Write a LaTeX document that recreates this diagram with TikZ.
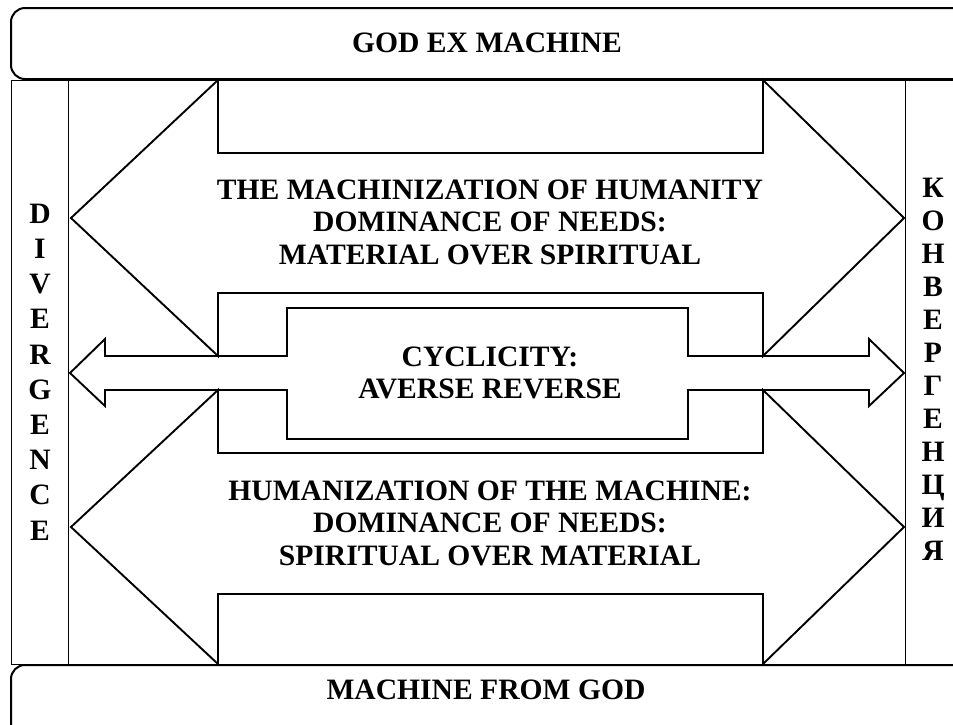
\documentclass[tikz,border=0pt]{standalone}
\usepackage{fontspec}
\setmainfont{Liberation Serif}
\usetikzlibrary{positioning}

\begin{document}
\begin{tikzpicture}[x=0.5pt,y=-0.5pt,line join=miter]
  \tikzstyle{every node}=[font=\fontsize{14.8}{16.25}\selectfont\bfseries,align=center,inner sep=0pt]
  \tikzstyle{band}=[draw,line width=1pt,rounded corners=7pt,fill=white]
  \tikzstyle{frame}=[draw,line width=0.5pt]
  \tikzstyle{arrowshape}=[draw,line width=0.95pt]
  \tikzstyle{leftcol}=[font=\fontsize{14.8}{17.6}\selectfont\bfseries]
  \tikzstyle{rightcol}=[font=\fontsize{14.8}{16.5}\selectfont\bfseries]
  \clip (0,0) rectangle (953,724);
  % frame and side columns
  \draw[frame] (11,80) rectangle (990,664);
  \draw[frame] (68,80) -- (68,664);
  \draw[frame] (905,80) -- (905,664);
  % bands
  \draw[band] (11,8) rectangle (990,79);
  \draw[band] (11,665) rectangle (990,770);
  % big arrows
  \draw[arrowshape] (71,218) -- (218,80) -- (218,153) -- (763,153) -- (763,80)
    -- (904,218) -- (763,356) -- (763,293) -- (218,293) -- (218,356) -- cycle;
  \draw[arrowshape] (71,527) -- (218,390) -- (218,453) -- (763,453) -- (763,390)
    -- (904,527) -- (763,664) -- (763,594) -- (218,594) -- (218,664) -- cycle;
  % middle arrow
  \draw[arrowshape] (70,373) -- (105,339) -- (105,356) -- (287,356) -- (287,308)
    -- (688,308) -- (688,356) -- (869,356) -- (869,339) -- (904,373) -- (869,406)
    -- (869,390) -- (688,390) -- (688,439) -- (287,439) -- (287,390) -- (105,390)
    -- (105,406) -- cycle;
  % texts
  \node (top) at (487,43) {GOD EX MACHINE};
  \node (bottom) at (486,690) {MACHINE FROM GOD};
  \node (upper) at (490,222) {THE MACHINIZATION OF HUMANITY\\DOMINANCE OF NEEDS:\\MATERIAL OVER SPIRITUAL};
  \node (cycle) at (490,373) {CYCLICITY:\\AVERSE REVERSE};
  \node (lower) at (490,523) {HUMANIZATION OF THE MACHINE:\\DOMINANCE OF NEEDS:\\SPIRITUAL OVER MATERIAL};
  \node[leftcol] (diverge) at (40,372) {D\\I\\V\\E\\R\\G\\E\\N\\C\\E};
  \node[rightcol] (converge) at (933,369) {К\\О\\Н\\В\\Е\\Р\\Г\\Е\\Н\\Ц\\И\\Я};
\end{tikzpicture}
\end{document}
